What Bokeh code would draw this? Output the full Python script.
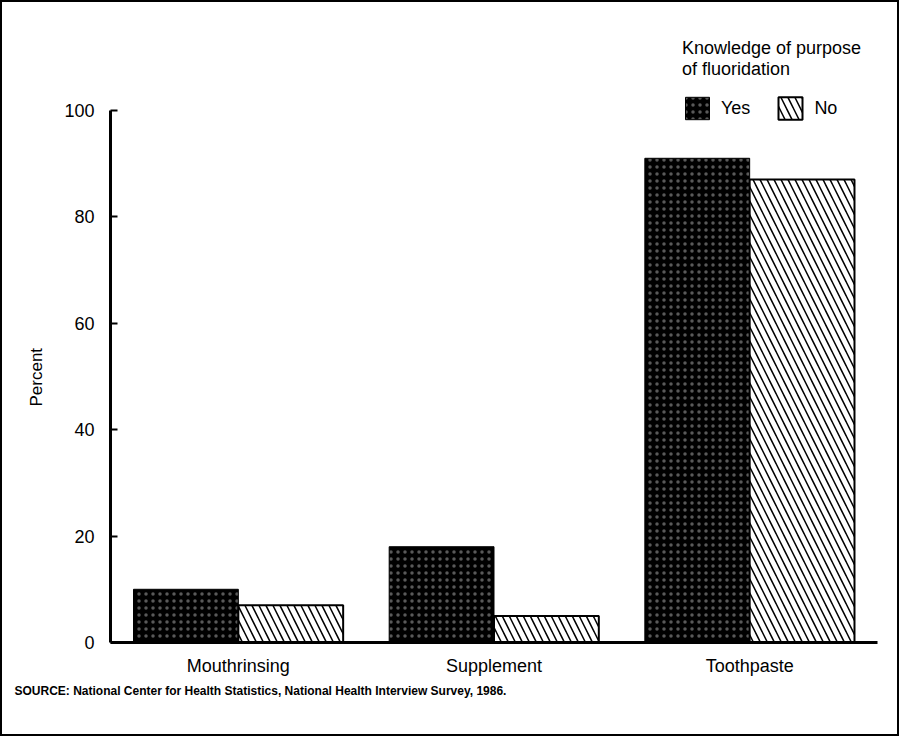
from bokeh.plotting import figure
from bokeh.models import ColumnDataSource, FactorRange, Range1d, Legend, LegendItem, Title, FixedTicker
from bokeh.transform import dodge
from bokeh.embed import file_html
from bokeh.resources import INLINE

categories = ["Mouthrinsing", "Supplement", "Toothpaste"]
yes_values = [10, 18, 91]
no_values = [7, 5, 87]
y_ticks = [0, 20, 40, 60, 80, 100]
legend_title = "Knowledge of purpose\nof fluoridation"
y_label = "Percent"
source_note = "SOURCE: National Center for Health Statistics, National Health Interview Survey, 1986."

FONT = "Liberation Sans"

src = ColumnDataSource(dict(cat=categories, yes=yes_values, no=no_values))

p = figure(
    width=899, height=736,
    x_range=FactorRange(*categories, range_padding=0),
    y_range=Range1d(0, 118.4),
    output_backend="svg", toolbar_location=None,
    min_border_left=108, min_border_right=24, min_border_top=10, min_border_bottom=96,
)
p.styles = {"border": "2px solid black"}
p.background_fill_color = "white"
p.border_fill_color = "white"
p.outline_line_color = None
p.xgrid.visible = False
p.ygrid.visible = False

r_yes = p.vbar(x=dodge("cat", -0.205, range=p.x_range), top="yes", width=0.41, source=src,
               fill_color="black", line_color="black", line_width=1,
               hatch_pattern="dot", hatch_color="white", hatch_scale=7, hatch_weight=1, hatch_alpha=0.35)
r_no = p.vbar(x=dodge("cat", 0.205, range=p.x_range), top="no", width=0.41, source=src,
              fill_color="white", line_color="black", line_width=2,
              hatch_pattern="\\", hatch_color="black", hatch_scale=14, hatch_weight=1.5)

# y axis
ya = p.yaxis[0]
ya.ticker = FixedTicker(ticks=y_ticks)
ya.bounds = (0, 100)
ya.major_tick_in = 7
ya.major_tick_out = 0
ya.minor_tick_line_color = None
ya.axis_line_width = 3
ya.major_tick_line_width = 2
ya.major_label_standoff = 16
ya.major_label_text_font = FONT
ya.major_label_text_font_size = "18px"
ya.major_label_text_color = "black"

# y-axis title, centred on the 0-100 span of the axis
yt = Title(text=y_label, align="left", text_font=FONT, text_font_size="17px",
           text_font_style="normal", text_color="black", offset=236, standoff=31)
p.add_layout(yt, "left")

# x axis
xa = p.xaxis[0]
xa.axis_line_width = 3
xa.major_tick_line_color = None
xa.minor_tick_line_color = None
xa.major_label_standoff = 7
xa.major_label_text_font = FONT
xa.major_label_text_font_size = "18px"
xa.major_label_text_color = "black"

legend = Legend(
    items=[LegendItem(label="Yes", renderers=[r_yes]), LegendItem(label="No", renderers=[r_no])],
    orientation="horizontal",
    location=(572, 520),
    title=legend_title,
    title_text_font=FONT, title_text_font_size="18px", title_text_font_style="normal",
    title_text_color="black",
    title_standoff=14,
    label_text_font=FONT, label_text_font_size="18px", label_text_color="black",
    glyph_width=30, glyph_height=28, spacing=25, label_standoff=9,
    padding=0, margin=0,
    border_line_color=None, background_fill_alpha=0,
)
p.add_layout(legend)

t = Title(text=source_note, align="left", text_font=FONT, text_font_size="12px",
          text_font_style="bold", text_color="black", offset=-96, standoff=7)
p.add_layout(t, "below")

open("out.html", "w").write(file_html(p, INLINE))
